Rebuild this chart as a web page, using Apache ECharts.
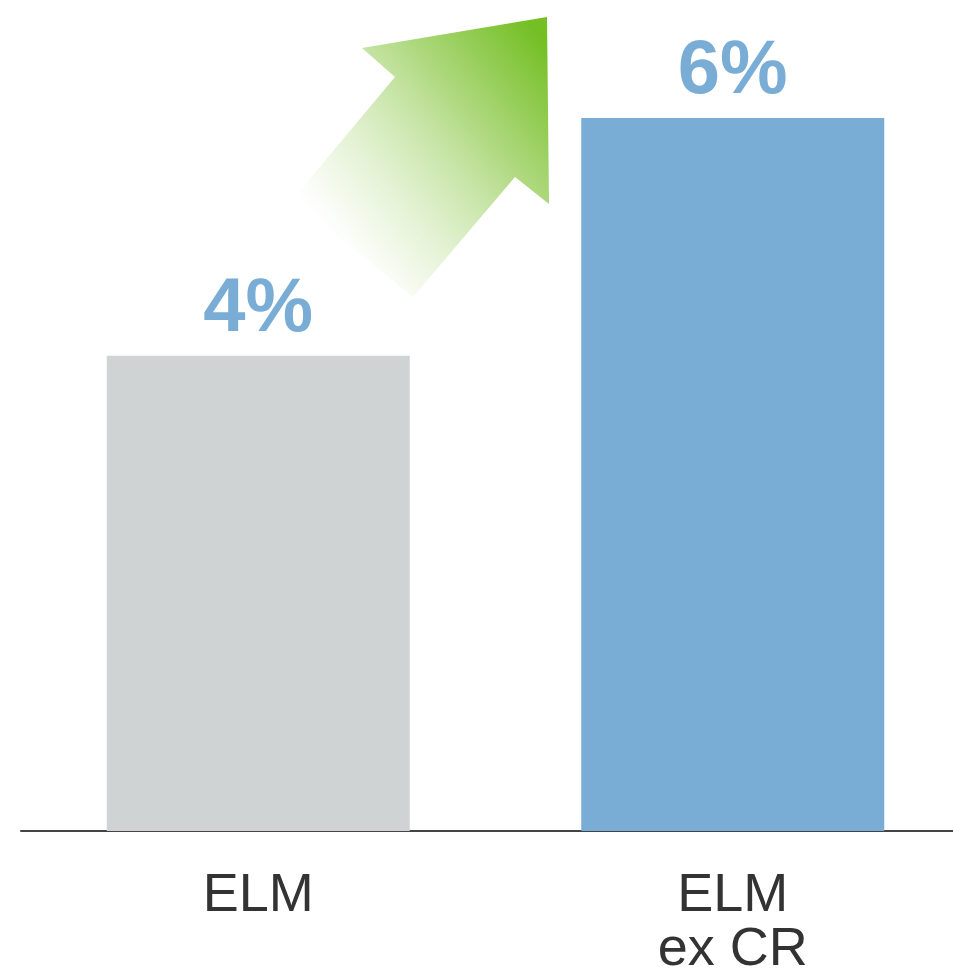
<!DOCTYPE html>
<html>
<head>
<meta charset="utf-8">
<title>ELM growth</title>
<script src="https://cdn.jsdelivr.net/npm/echarts@6/dist/echarts.min.js"></script>
<style>
  html, body { margin: 0; padding: 0; background: #ffffff; }
  #chart { width: 953px; height: 980px; }
</style>
</head>
<body>
<div id="chart"></div>
<script>
// Category labels (second one wraps onto two lines)
const categories = ['ELM', 'ELM\nex CR'];
// Growth values in percent
const values = [4, 6];
// Colour of each bar
const barColors = ['#cfd3d4', '#7aadd5'];

const chart = echarts.init(document.getElementById('chart'), null, { renderer: 'canvas' });

const option = {
  backgroundColor: '#ffffff',
  animation: false,
  // plot area runs a little past the right edge so the axis line reaches it
  grid: {
    left: 21, width: 949, top: 118, height: 713,
    containLabel: false,
    outerBoundsMode: 'none'
  },
  xAxis: {
    type: 'category',
    data: categories,
    axisLine: { show: true, lineStyle: { color: '#444444', width: 2 } },
    axisTick: { show: false },
    axisLabel: {
      color: '#333333',
      fontFamily: 'Liberation Sans, Arial, sans-serif',
      fontSize: 54,
      lineHeight: 54,
      margin: 38,
      verticalAlign: 'top'
    }
  },
  yAxis: {
    type: 'value',
    min: 0,
    max: 6,
    show: false,
    splitLine: { show: false }
  },
  series: [{
    type: 'bar',
    barWidth: 303,
    data: values.map((v, i) => ({ value: v, itemStyle: { color: barColors[i] } })),
    label: {
      show: true,
      position: 'top',
      distance: 8,
      formatter: p => p.value + '%',
      color: '#7aadd5',
      fontFamily: 'Liberation Sans, Arial, sans-serif',
      fontWeight: 'bold',
      fontSize: 76
    }
  }],
  graphic: [{
    // Upward arrow with a green fade between the two bars
    type: 'polygon',
    z: 0,
    shape: {
      points: [
        [547, 17], [549, 204], [515, 177], [413, 297],
        [292, 200], [395, 77], [362, 48]
      ]
    },
    style: {
      fill: {
        type: 'linear',
        global: true,
        x: 330, y: 250, x2: 560, y2: 60,
        colorStops: [
          { offset: 0, color: 'rgba(255,255,255,0)' },
          { offset: 0.1, color: '#f9fcf5' },
          { offset: 0.3, color: '#e3f2d3' },
          { offset: 0.5, color: '#c8e5a8' },
          { offset: 0.66, color: '#add87d' },
          { offset: 1, color: '#74bf24' }
        ]
      }
    }
  }]
};

chart.setOption(option);
</script>
</body>
</html>
